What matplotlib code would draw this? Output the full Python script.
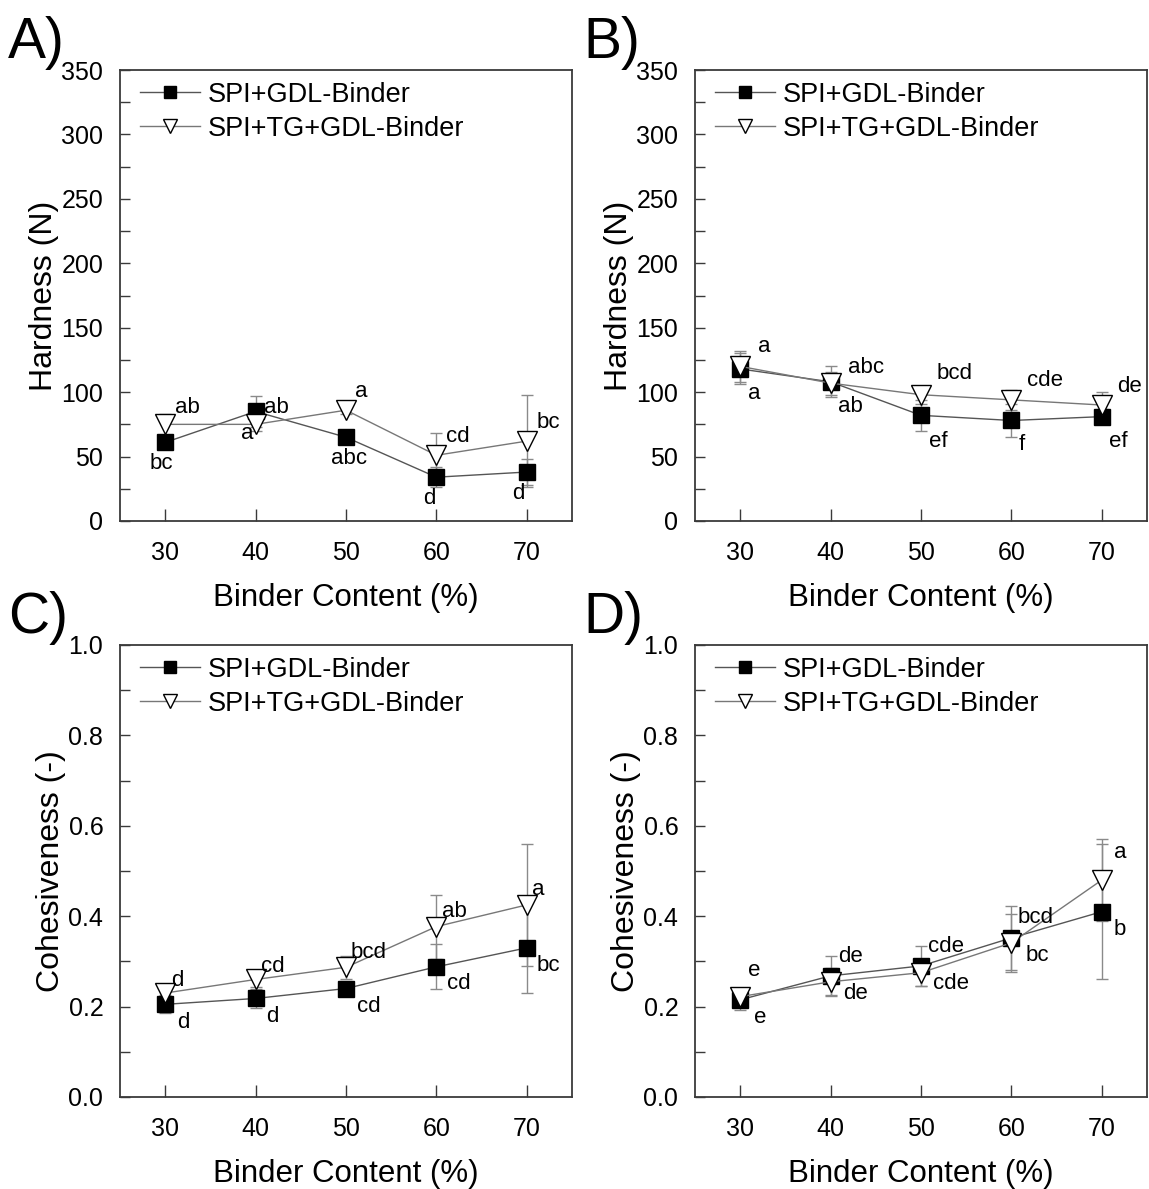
import matplotlib
matplotlib.use("Agg")
import matplotlib.pyplot as plt
from matplotlib.ticker import MultipleLocator

plt.rcParams['font.family'] = ['Liberation Sans', 'DejaVu Sans']

# ---------------- data ----------------
binder = [30, 40, 50, 60, 70]
series_names = ["SPI+GDL-Binder", "SPI+TG+GDL-Binder"]

A_sq = [61, 85, 65, 34, 38]
A_sq_err = [5, 12, 3, 8, 10]
A_tg = [75, 75, 86, 51, 62]
A_tg_err = [8, 5, 3, 17, 36]
A_sq_letters = ["bc", "ab", "abc", "d", "d"]
A_tg_letters = ["ab", "a", "a", "cd", "bc"]

B_sq = [118, 108, 82, 78, 81]
B_sq_err = [12, 12, 12, 13, 6]
B_tg = [120, 107, 98, 94, 90]
B_tg_err = [12, 9, 7, 8, 10]
B_sq_letters = ["a", "ab", "ef", "f", "ef"]
B_tg_letters = ["a", "abc", "bcd", "cde", "de"]

C_sq = [0.205, 0.218, 0.240, 0.288, 0.330]
C_sq_err = [0.020, 0.022, 0.012, 0.050, 0.100]
C_tg = [0.230, 0.260, 0.287, 0.377, 0.425]
C_tg_err = [0.015, 0.016, 0.025, 0.071, 0.135]
C_sq_letters = ["d", "d", "cd", "cd", "bc"]
C_tg_letters = ["d", "cd", "bcd", "ab", "a"]

D_sq = [0.215, 0.268, 0.290, 0.352, 0.410]
D_sq_err = [0.022, 0.045, 0.045, 0.070, 0.149]
D_tg = [0.222, 0.255, 0.275, 0.341, 0.480]
D_tg_err = [0.010, 0.030, 0.030, 0.064, 0.090]
D_sq_letters = ["e", "de", "cde", "bcd", "b"]
D_tg_letters = ["e", "de", "cde", "bc", "a"]

# label offsets in pixels (dx right, dy down)
A_sq_off = [(-4, 21), (21, -4), (3, 21), (-7, 21), (-8, 21)]
A_tg_off = [(22, -17), (-8, 9), (15, -19), (21, -19), (22, -19)]
B_sq_off = [(14, 25), (20, 25), (17, 26), (10, 24), (17, 25)]
B_tg_off = [(24, -20), (35, -16), (34, -21), (34, -19), (28, -19)]
C_sq_off = [(18, 18), (17, 18), (23, 18), (22, 17), (22, 18)]
C_tg_off = [(12, -13), (17, -13), (23, -15), (18, -15), (11, -15)]
D_sq_off = [(20, 18), (20, -19), (25, -19), (24, -20), (18, 18)]
D_tg_off = [(14, -26), (25, 12), (30, 11), (26, 13), (18, -28)]

W, H = 1149, 1189
fig = plt.figure(figsize=(W / 100, H / 100), dpi=100)

def rect(left, top, right, bottom):
    return [left / W, 1 - bottom / H, (right - left) / W, (bottom - top) / H]

panels = [
    ("A)", rect(120, 70, 572, 521), A_sq, A_sq_err, A_tg, A_tg_err, A_sq_letters, A_tg_letters, A_sq_off, A_tg_off, "Hardness (N)", (0, 350), 50, 25, "{:.0f}"),
    ("B)", rect(695, 70, 1147, 521), B_sq, B_sq_err, B_tg, B_tg_err, B_sq_letters, B_tg_letters, B_sq_off, B_tg_off, "Hardness (N)", (0, 350), 50, 25, "{:.0f}"),
    ("C)", rect(120, 645, 572, 1097), C_sq, C_sq_err, C_tg, C_tg_err, C_sq_letters, C_tg_letters, C_sq_off, C_tg_off, "Cohesiveness (-)", (0, 1.0), 0.2, 0.1, "{:.1f}"),
    ("D)", rect(695, 645, 1147, 1097), D_sq, D_sq_err, D_tg, D_tg_err, D_sq_letters, D_tg_letters, D_sq_off, D_tg_off, "Cohesiveness (-)", (0, 1.0), 0.2, 0.1, "{:.1f}"),
]

spine_col = "#3a3a3a"
line_col = "#555555"
err_col = "#8a8a8a"

for (plab, r, sq, sqe, tg, tge, sql, tgl, sqo, tgo, ylab, ylim, maj, mnr, fmt) in panels:
    ax = fig.add_axes(r)
    ax.errorbar(binder, sq, yerr=sqe, fmt='none', ecolor=err_col, elinewidth=1.0, capsize=4.5, capthick=1.0, zorder=2)
    ax.errorbar(binder, tg, yerr=tge, fmt='none', ecolor=err_col, elinewidth=1.0, capsize=4.5, capthick=1.0, zorder=2)
    ax.plot(binder, sq, color=line_col, lw=1.0, marker='s', ms=12, mfc='black', mec='black',
            label=series_names[0], zorder=3)
    ax.plot(binder, tg, color='#777777', lw=1.0, marker='v', ms=14, mfc='white', mec='black', mew=1.0,
            label=series_names[1], zorder=4)
    for x, y, t, (dx, dy) in zip(binder, sq, sql, sqo):
        ax.annotate(t, (x, y), xytext=(dx, -dy), textcoords='offset pixels',
                    ha='center', va='center', fontsize=16, zorder=5)
    for x, y, t, (dx, dy) in zip(binder, tg, tgl, tgo):
        ax.annotate(t, (x, y), xytext=(dx, -dy), textcoords='offset pixels',
                    ha='center', va='center', fontsize=16, zorder=5)
    ax.set_xlim(25, 75)
    ax.set_ylim(*ylim)
    ax.set_xticks(binder)
    ax.yaxis.set_major_locator(MultipleLocator(maj))
    ax.yaxis.set_minor_locator(MultipleLocator(mnr))
    ax.set_yticklabels([fmt.format(v) for v in ax.get_yticks()])
    ax.tick_params(axis='x', direction='in', length=9, width=1.0, color=spine_col,
                   labelsize=18, pad=14.5, top=False)
    ax.tick_params(axis='y', which='both', direction='in', length=7, width=1.0, color=spine_col,
                   labelsize=18, pad=12, right=False)
    for s in ax.spines.values():
        s.set_color(spine_col)
        s.set_linewidth(1.3)
    ax.set_xlabel("Binder Content (%)", fontsize=22.5, labelpad=13)
    ax.set_ylabel(ylab, fontsize=23, labelpad=1.5)
    ax.legend(loc='upper left', frameon=False, fontsize=19.5, handlelength=2.2, markerscale=0.75,
              handletextpad=0.3, labelspacing=0.3, borderaxespad=0.0, borderpad=0.3,
              bbox_to_anchor=(0.0265, 0.992))
    fig.text(r[0] - 112 / W, r[1] + r[3] + 54 / H, plab, fontsize=41, va='top', ha='left')

fig.savefig("out.png", dpi=100)
